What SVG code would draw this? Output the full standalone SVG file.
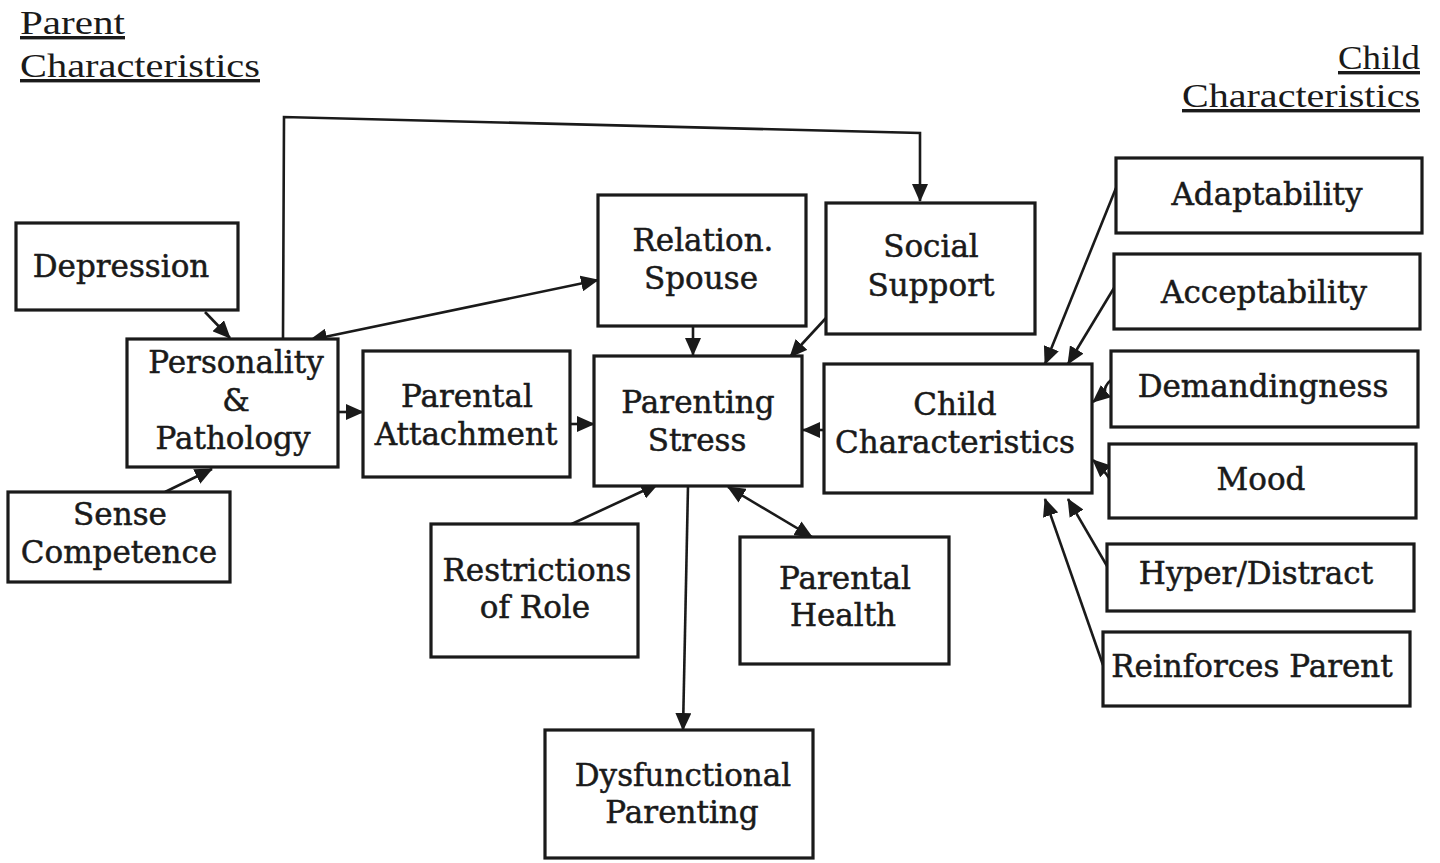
<svg xmlns="http://www.w3.org/2000/svg" width="1440" height="863" viewBox="0 0 1440 863">
<style>
.box{fill:#fff;stroke:#1a1a1a;stroke-width:3.2}
.t{font-family:"DejaVu Serif","Liberation Serif",serif;font-size:31px;fill:#1a1a1a;stroke:#1a1a1a;stroke-width:0.5;text-anchor:middle}
.h{font-family:"Liberation Serif","DejaVu Serif",serif;font-size:34px;fill:#1a1a1a;text-decoration:underline}
.c{fill:none;stroke:#1a1a1a;stroke-width:2.6}
</style>
<defs>
<marker id="ah" markerUnits="userSpaceOnUse" markerWidth="18" markerHeight="16" refX="17" refY="8" orient="auto-start-reverse" viewBox="0 0 18 16">
<path d="M0,0 L18,8 L0,16 z" fill="#1a1a1a"/>
</marker>
</defs>
<rect width="1440" height="863" fill="#fff"/>
<g id="headers">
<text class="h" x="20" y="34" textLength="105" lengthAdjust="spacingAndGlyphs">Parent</text>
<text class="h" x="20" y="77" textLength="240" lengthAdjust="spacingAndGlyphs">Characteristics</text>
<text class="h" x="1420" y="69" text-anchor="end" textLength="82" lengthAdjust="spacingAndGlyphs">Child</text>
<text class="h" x="1420" y="107" text-anchor="end" textLength="238" lengthAdjust="spacingAndGlyphs">Characteristics</text>
</g>
<g id="connectors">
<line class="c" x1="205" y1="312" x2="230" y2="338" marker-end="url(#ah)"/>
<line class="c" x1="165" y1="492" x2="212" y2="469" marker-end="url(#ah)"/>
<polyline class="c" points="283,338 284,117 920,133 920,201" marker-end="url(#ah)"/>
<line class="c" x1="310" y1="340" x2="598" y2="280" marker-start="url(#ah)" marker-end="url(#ah)"/>
<line class="c" x1="338" y1="412" x2="363" y2="412" marker-end="url(#ah)"/>
<line class="c" x1="570" y1="424" x2="594" y2="424" marker-end="url(#ah)"/>
<line class="c" x1="693" y1="326" x2="693" y2="355" marker-end="url(#ah)"/>
<line class="c" x1="826" y1="318" x2="790" y2="357" marker-end="url(#ah)"/>
<line class="c" x1="824" y1="430" x2="803" y2="430" marker-end="url(#ah)"/>
<line class="c" x1="563" y1="528" x2="658" y2="484" marker-end="url(#ah)"/>
<line class="c" x1="728" y1="487" x2="812" y2="537" marker-start="url(#ah)" marker-end="url(#ah)"/>
<line class="c" x1="688" y1="486" x2="683" y2="730" marker-end="url(#ah)"/>
<line class="c" x1="1116" y1="188" x2="1045" y2="364" marker-end="url(#ah)"/>
<line class="c" x1="1114" y1="288" x2="1068" y2="364" marker-end="url(#ah)"/>
<path class="c" d="M1111,380 Q1104,386 1105,392 L1093,402" marker-end="url(#ah)"/>
<path class="c" d="M1109,478 Q1104,470 1093,460" marker-end="url(#ah)"/>
<line class="c" x1="1107" y1="566" x2="1068" y2="499" marker-end="url(#ah)"/>
<line class="c" x1="1103" y1="665" x2="1045" y2="499" marker-end="url(#ah)"/>
</g>
<g id="depression"><rect class="box" x="16" y="223" width="222" height="87"/><text class="t" x="121" y="277">Depression</text></g>
<g id="personality"><rect class="box" x="127" y="339" width="211" height="128"/><text class="t" x="236" y="373">Personality</text><text class="t" x="236" y="411">&amp;</text><text class="t" x="233" y="449">Pathology</text></g>
<g id="sense"><rect class="box" x="8" y="492" width="222" height="90"/><text class="t" x="120" y="525">Sense</text><text class="t" x="119" y="563">Competence</text></g>
<g id="attachment"><rect class="box" x="363" y="351" width="207" height="126"/><text class="t" x="467" y="407">Parental</text><text class="t" x="466" y="445">Attachment</text></g>
<g id="spouse"><rect class="box" x="598" y="195" width="208" height="131"/><text class="t" x="703" y="251">Relation.</text><text class="t" x="701" y="289">Spouse</text></g>
<g id="social"><rect class="box" x="826" y="203" width="209" height="131"/><text class="t" x="931" y="257">Social</text><text class="t" x="931" y="296">Support</text></g>
<g id="stress"><rect class="box" x="594" y="356" width="208" height="130"/><text class="t" x="698" y="413">Parenting</text><text class="t" x="697" y="451">Stress</text></g>
<g id="child"><rect class="box" x="824" y="364" width="268" height="129"/><text class="t" x="955" y="415">Child</text><text class="t" x="955" y="453">Characteristics</text></g>
<g id="restrictions"><rect class="box" x="431" y="524" width="207" height="133"/><text class="t" x="537" y="581">Restrictions</text><text class="t" x="535" y="618">of Role</text></g>
<g id="health"><rect class="box" x="740" y="537" width="209" height="127"/><text class="t" x="845" y="589">Parental</text><text class="t" x="843" y="626">Health</text></g>
<g id="dysfunctional"><rect class="box" x="545" y="730" width="268" height="128"/><text class="t" x="683" y="786">Dysfunctional</text><text class="t" x="682" y="823">Parenting</text></g>
<g id="adaptability"><rect class="box" x="1116" y="158" width="306" height="75"/><text class="t" x="1267" y="205">Adaptability</text></g>
<g id="acceptability"><rect class="box" x="1114" y="254" width="306" height="75"/><text class="t" x="1264" y="303">Acceptability</text></g>
<g id="demandingness"><rect class="box" x="1111" y="351" width="307" height="76"/><text class="t" x="1263" y="397">Demandingness</text></g>
<g id="mood"><rect class="box" x="1109" y="444" width="307" height="74"/><text class="t" x="1261" y="490">Mood</text></g>
<g id="hyper"><rect class="box" x="1107" y="544" width="307" height="67"/><text class="t" x="1256" y="584">Hyper/Distract</text></g>
<g id="reinforces"><rect class="box" x="1103" y="632" width="307" height="74"/><text class="t" x="1252" y="677">Reinforces Parent</text></g>
</svg>
